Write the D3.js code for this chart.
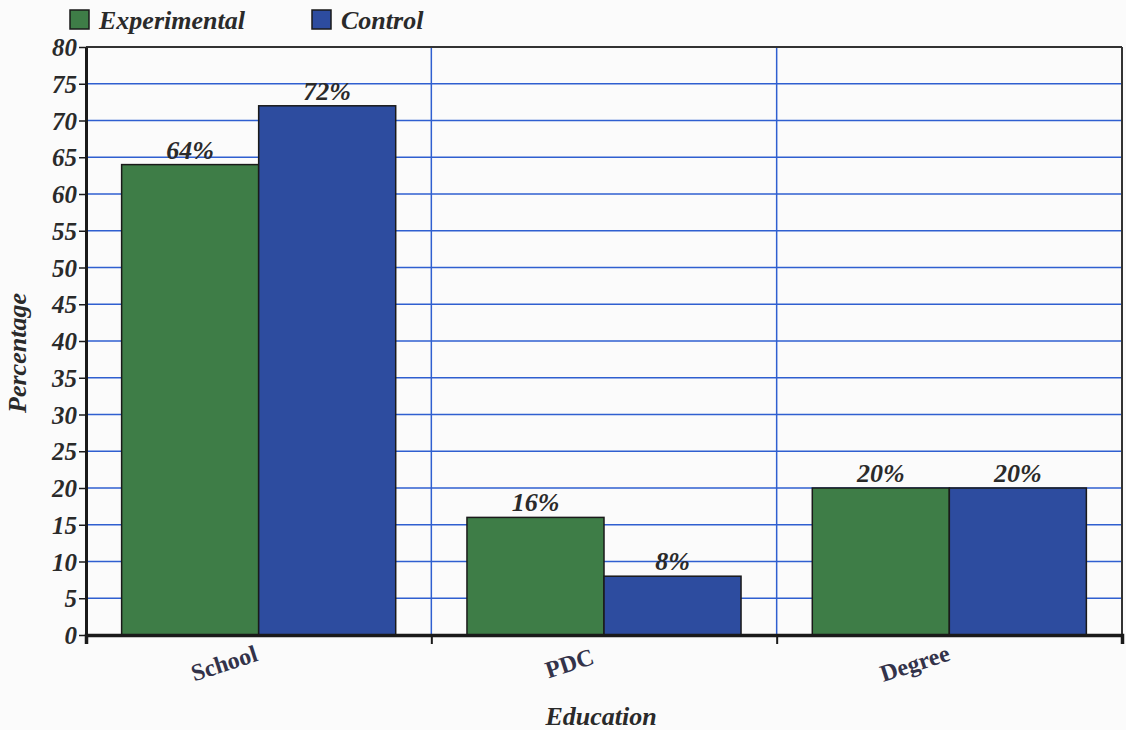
<!DOCTYPE html>
<head>
  <meta charset="utf-8">
  <style>
    body { margin: 0; background: #fbfbfb; }
    svg text { font-family: "Liberation Serif", "DejaVu Serif", serif; font-weight: bold; font-style: italic; fill: #2a2a2a; }
    svg .grid { stroke: #2f5fd0; stroke-width: 1.5px; }
  </style>
</head>
<body>
<script src="https://d3js.org/d3.v7.min.js"></script>
<script>
  var categories = ["School", "PDC", "Degree"];
  var series = ["Experimental", "Control"];
  var experimental = [64, 16, 20];
  var control = [72, 8, 20];
  var yTicks = [0, 5, 10, 15, 20, 25, 30, 35, 40, 45, 50, 55, 60, 65, 70, 75, 80];
  var colors = ["#3e7d47", "#2d4c9f"];

  var plotLeft = 86, plotRight = 1122, plotTop = 47, plotBottom = 635;

  var svg = d3.select("body").append("svg")
      .attr("width", 1126)
      .attr("height", 730);

  var x = d3.scaleBand().domain(categories).range([plotLeft, plotRight]).paddingInner(0).paddingOuter(0);
  var xs = d3.scaleBand().domain(series).range([0, x.bandwidth()]).paddingOuter(0.26).paddingInner(0);
  var y = d3.scaleLinear().domain([0, 80]).range([plotBottom, plotTop]);

  // horizontal grid
  svg.append("g").selectAll("line")
    .data(yTicks.filter(function (d) { return d > 0 && d < 80; }))
    .join("line")
      .classed("grid", true)
      .attr("x1", plotLeft).attr("x2", plotRight)
      .attr("y1", function (d) { return y(d); })
      .attr("y2", function (d) { return y(d); });

  // vertical grid at category boundaries
  svg.append("g").selectAll("line")
    .data(categories.slice(1))
    .join("line")
      .classed("grid", true)
      .attr("x1", function (d) { return x(d); })
      .attr("x2", function (d) { return x(d); })
      .attr("y1", plotTop).attr("y2", plotBottom);

  // frame top / right
  svg.append("line").attr("x1", plotLeft).attr("x2", plotRight).attr("y1", plotTop).attr("y2", plotTop)
    .style("stroke", "#333").style("stroke-width", "2px");
  svg.append("line").attr("x1", plotRight).attr("x2", plotRight).attr("y1", plotTop).attr("y2", plotBottom)
    .style("stroke", "#333").style("stroke-width", "2px");

  // bars
  var rows = categories.map(function (c, i) {
    return { cat: c, vals: [experimental[i], control[i]] };
  });

  var groups = svg.append("g").selectAll("g")
    .data(rows)
    .join("g")
      .attr("transform", function (d) { return "translate(" + x(d.cat) + ",0)"; });

  groups.selectAll("rect")
    .data(function (d) { return d.vals.map(function (v, j) { return { s: series[j], v: v, j: j }; }); })
    .join("rect")
      .attr("x", function (d) { return xs(d.s); })
      .attr("width", xs.bandwidth())
      .attr("y", function (d) { return y(d.v); })
      .attr("height", function (d) { return y(0) - y(d.v); })
      .style("fill", function (d) { return colors[d.j]; })
      .style("stroke", "#1a1a1a")
      .style("stroke-width", "1.5px");

  groups.selectAll("text.val")
    .data(function (d) { return d.vals.map(function (v, j) { return { s: series[j], v: v }; }); })
    .join("text")
      .classed("val", true)
      .attr("x", function (d) { return xs(d.s) + xs.bandwidth() / 2; })
      .attr("y", function (d) { return y(d.v) - 6; })
      .text(function (d) { return d.v + "%"; })
      .style("text-anchor", "middle")
      .style("font-size", "26px");

  // y axis
  var yAxis = d3.axisLeft(y).tickValues(yTicks).tickSize(7).tickSizeOuter(0);
  var ya = svg.append("g")
      .attr("transform", "translate(" + plotLeft + ",0)")
      .call(yAxis);
  ya.select(".domain").style("stroke", "#1a1a1a").style("stroke-width", "3px");
  ya.selectAll(".tick line").style("stroke", "#1a1a1a").style("stroke-width", "1.5px");
  ya.selectAll(".tick text")
    .attr("x", -9)
    .attr("dy", "0.34em")
    .style("font-size", "25px")
    .style("font-family", "'Liberation Serif', serif")
    .style("fill", "#2a2a2a");

  // x axis
  var xLin = d3.scaleLinear().domain([0, 3]).range([plotLeft, plotRight]);
  var xa = svg.append("g")
      .attr("transform", "translate(0," + plotBottom + ")")
      .call(d3.axisBottom(xLin).tickValues([0, 1, 2, 3]).tickSize(9).tickFormat(""));
  xa.select(".domain").style("stroke", "#1a1a1a").style("stroke-width", "3.5px");
  xa.selectAll(".tick line").style("stroke", "#1a1a1a").style("stroke-width", "2px");

  svg.append("g").selectAll("text")
    .data(categories)
    .join("text")
      .attr("transform", function (d) {
        return "translate(" + (x(d) + x.bandwidth() / 2 - 32) + "," + (plotBottom + 36) + ") rotate(-18)";
      })
      .text(function (d) { return d; })
      .style("text-anchor", "middle")
      .style("font-style", "normal")
      .style("font-size", "24px")
      .style("fill", "#33334a");

  // axis titles
  svg.append("text")
    .attr("transform", "translate(26,353) rotate(-90)")
    .text("Percentage")
    .style("text-anchor", "middle")
    .style("font-size", "26px");

  svg.append("text")
    .attr("x", 601)
    .attr("y", 725)
    .text("Education")
    .style("text-anchor", "middle")
    .style("font-size", "26px");

  // legend
  var legendX = [70, 312];
  var lg = svg.append("g").selectAll("g")
    .data(series)
    .join("g")
      .attr("transform", function (d, i) { return "translate(" + legendX[i] + ",10)"; });
  lg.append("rect")
    .attr("width", 19).attr("height", 19)
    .style("fill", function (d, i) { return colors[i]; })
    .style("stroke", "#1a1a1a").style("stroke-width", "1.5px");
  lg.append("text")
    .attr("x", 29).attr("y", 19)
    .text(function (d) { return d; })
    .style("font-size", "26px");
</script>
</body>
</html>
